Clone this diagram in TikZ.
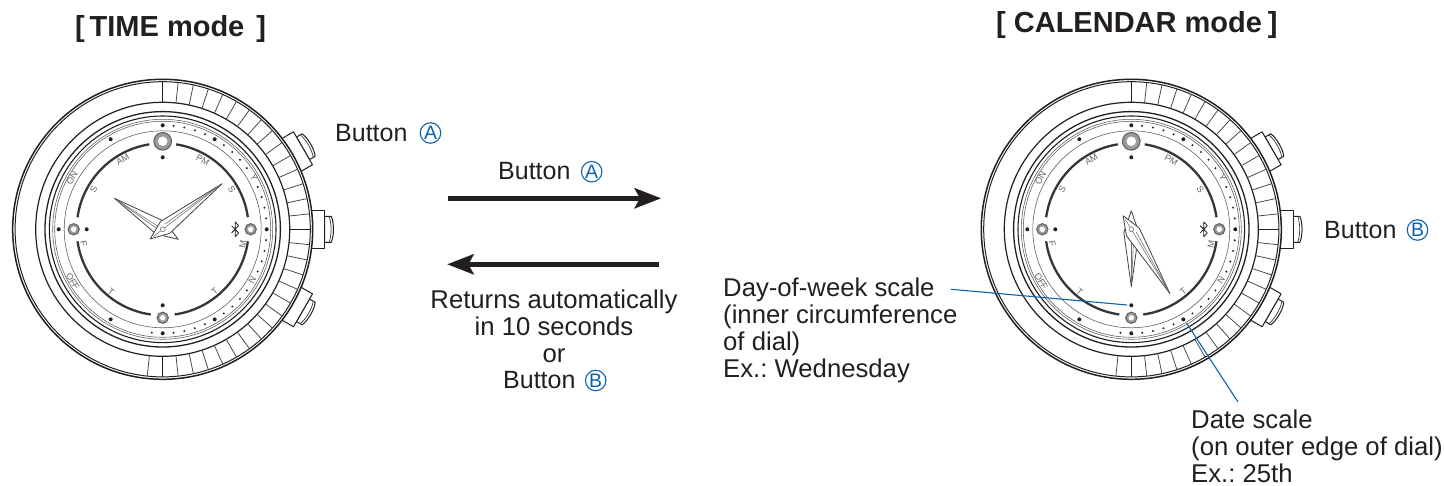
\documentclass[tikz,border=0pt]{standalone}
\usepackage{fontspec}
\setmainfont{Liberation Sans}
\usetikzlibrary{arrows.meta}
\definecolor{lblue}{HTML}{0B62AC}
\definecolor{ink}{HTML}{231F20}
\definecolor{dialgray}{HTML}{666666}
\tikzset{
  x=1pt,y=1pt,
  wline/.style={draw=ink,line width=1pt},
  thinring/.style={draw=ink!75,line width=0.55pt},
  handline/.style={draw=ink!85,line width=0.8pt,line join=round,fill=white},
  innerhand/.style={draw=ink!65,line width=0.55pt},
  dial/.style={text=dialgray,inner sep=0pt,font=\fontsize{9}{10}\selectfont},
  label/.style={text=ink,inner sep=0pt,font=\fontsize{25}{27}\selectfont\frenchspacing},
  blocklabel/.style={text=ink,inner sep=0pt,font=\fontsize{25.7}{27}\selectfont\frenchspacing},
  title/.style={text=ink,inner sep=0pt,font=\fontsize{29}{32}\selectfont\bfseries},
  circlabel/.style={circle,draw=lblue,line width=1.1pt,text=lblue,minimum size=20.5pt,inner sep=0pt,font=\fontsize{19.5}{19.5}\selectfont},
  bigarrow/.style={draw=ink,fill=ink,line width=5.5pt,-{Stealth[length=27pt,width=21pt,inset=6pt,line width=0pt]}},
  leader/.style={draw=lblue,line width=1.1pt},
  bigdot/.style={fill=ink,draw=none},
  crown/.style={wline,fill=white,line join=round},
  pearl/.style={draw=ink!70,line width=1.1pt,fill=ink!45},
  pics/watch/.style 2 args={code={
    % buttons
    \foreach \b in {30,0,-30}{
      \begin{scope}[rotate=\b]
        \draw[crown] (162,-13) -- (168.5,-13) .. controls (171.5,-7) and (171.5,7) .. (168.5,13) -- (162,13) -- cycle;
        \draw[wline,line width=0.6pt] (166.5,-12.5) .. controls (169,-6) and (169,6) .. (166.5,12.5);
        \draw[crown] (146,-19) -- (162,-19) -- (162,19) -- (146,19) -- cycle;
      \end{scope}
    }
    % bezel
    \draw[draw=ink,line width=1.5pt,fill=white] (0,0) circle[radius=150];
    \draw[wline] (0,0) circle[radius=147.6];
    \draw[wline,line width=1.2pt] (0,0) circle[radius=127];
    \foreach \a in {6,12,...,84,-6,-12,...,-96}
      \draw[draw=ink!85,line width=0.75pt] (\a:127) -- (\a:147.7);
    \draw[wline] (90:127) -- (90:147.7);
    \draw[wline] (0:127) -- (0:147.7);
    \draw[wline] (-90:127) -- (-90:147.7);
    % dial rings
    \draw[wline,line width=1.3pt] (0,0) circle[radius=117.7];
    \draw[wline,line width=1.1pt] (0,0) circle[radius=113.3];
    \draw[thinring] (0,0) circle[radius=110];
    \draw[thinring] (0,0) circle[radius=108];
    \draw[thinring] (0,0) circle[radius=98.5];
    % thick arcs
    \draw[draw=ink!90,line width=2.3pt] (81:86) arc[start angle=81,end angle=8,radius=86];
    \draw[draw=ink!90,line width=2.3pt] (-8:86) arc[start angle=-8,end angle=-82,radius=86];
    \draw[draw=ink!90,line width=2.3pt] (-98:86) arc[start angle=-98,end angle=-172,radius=86];
    \draw[draw=ink!90,line width=2.3pt] (172:86) arc[start angle=172,end angle=99,radius=86];
    % outer dots
    \foreach \a in {90,60,120,180,240,270,300,0}
      \fill[bigdot] (\a:104) circle[radius=2];
    \foreach \a in {84,78,72,66,54,48,42,36,24,18,12,6,-6,-12,-18,-24,-36,-42,-48,-54,-66,-72,-78,-84,-96}
      \fill[bigdot] (\a:104) circle[radius=1.1];
    % inner dots
    \fill[bigdot] (0,72) circle[radius=2];
    \fill[bigdot] (-76,0) circle[radius=2];
    \fill[bigdot] (0,-76) circle[radius=2];
    % pearls
    \draw[pearl] (0,88) circle[radius=8.8];
    \draw[draw=white,line width=1pt,fill=white] (0,88) circle[radius=4.2];
    \draw[pearl] (-89,0) circle[radius=5.6];
    \draw[draw=white,line width=0.6pt,fill=white] (-89,0) circle[radius=2.4];
    \draw[pearl] (88,0) circle[radius=5.6];
    \draw[draw=white,line width=0.6pt,fill=white] (88,0) circle[radius=2.4];
    \draw[pearl] (0,-88.5) circle[radius=5.6];
    \draw[draw=white,line width=0.6pt,fill=white] (0,-88.5) circle[radius=2.4];
    % dial letters
    \node[dial,rotate=30] (am) at (-40,69.5) {AM};
    \node[dial,rotate=-30] (pm) at (40,69.5) {PM};
    \node[dial,rotate=60] (s1) at (-69,40) {S};
    \node[dial,rotate=-60] (s2) at (69,40) {S};
    \node[dial,rotate=60] (on) at (-90.7,51) {ON};
    \node[dial,rotate=-60] (y) at (91.3,52) {Y};
    \node[dial,rotate=-80] (f) at (-79,-14.7) {F};
    \node[dial,rotate=80] (m) at (80,-14.7) {M};
    \node[dial,rotate=-60] (off) at (-90,-52) {OFF};
    \node[dial,rotate=60] (n) at (89.7,-51) {N};
    \node[dial,rotate=-40] (t1) at (-51.7,-62.3) {T};
    \node[dial,rotate=40] (t2) at (52,-62.3) {T};
    % bluetooth rune
    \begin{scope}[shift={(72.5,0)}]
      \draw[draw=ink,line width=0.8pt,line join=round] (-3.6,3.6) -- (3.4,-3.6) -- (0,-7.4) -- (0,7.4) -- (3.4,3.6) -- (-3.6,-3.6);
    \end{scope}
    % hour hand
    \begin{scope}[rotate=#1]
      \draw[handline] (57.3,0) -- (3,7.5) -- (-18.5,0) -- (3,-7.5) -- cycle;
      \draw[innerhand] (54,0) -- (-8,0);
      \draw[innerhand] (54,0.2) -- (5,2.5);
    \end{scope}
    % minute hand
    \begin{scope}[rotate=#2]
      \draw[handline] (75,0) -- (3,7.5) -- (-15.8,0) -- (3,-7.5) -- cycle;
      \draw[innerhand] (72,0) -- (-12,0);
      \draw[innerhand] (72,0.2) -- (5,2.8);
      \draw[innerhand,fill=white] (0,0) circle[radius=2.4];
    \end{scope}
  }}
}
\begin{document}
\begin{tikzpicture}
\useasboundingbox (0,0) rectangle (1444,-486);
% watches
\pic (w1) at (162.7,-229.3) {watch={147.3}{37.5}};
\pic (w2) at (1131.3,-229.3) {watch={-90}{-59}};
% titles
\node[title,anchor=base west] (t1) at (75,-36.5) {[\,TIME mode\hspace{12pt}]};
\node[title,anchor=base west] (t2) at (996,-32.5) {[ CALENDAR mode\hspace{6pt}]};
% labels
\node[label,anchor=base west] (la) at (335,-141.5) {Button};
\node[circlabel] (laa) at (430.5,-133) {A};
\node[label,anchor=base west] (lb) at (1324,-238.5) {Button};
\node[circlabel] (lbb) at (1417.5,-230) {B};
\node[label,anchor=base west] (lc) at (498,-180) {Button};
\node[circlabel] (lcc) at (591.7,-171.7) {A};
\node[blocklabel,align=center,anchor=north] (ret) at (554,-290) {Returns automatically\\in 10 seconds\\or};
\node[label,anchor=base west] (ld) at (503,-388.5) {Button};
\node[circlabel] (ldd) at (595.7,-380.5) {B};
\node[blocklabel,align=left,anchor=north west] (dow) at (723,-277.5) {Day-of-week scale\\(inner circumference\\of dial)\\Ex.: Wednesday};
\node[blocklabel,align=left,anchor=north west] (ds) at (1191,-410) {Date scale\\(on outer edge of dial)\\Ex.: 25th};
% arrows
\coordinate (ar1) at (448.3,-198.3);
\coordinate (ar2) at (661,-198.3);
\coordinate (ar3) at (659,-264.3);
\coordinate (ar4) at (447.3,-264.3);
\draw[bigarrow] (ar1) -- (ar2);
\draw[bigarrow] (ar3) -- (ar4);
% leaders
\coordinate (l1s) at (951,-289.3);
\coordinate (l1e) at (1127,-305);
\coordinate (l2s) at (1186.7,-323.3);
\coordinate (l2e) at (1238,-402);
\draw[leader] (l1s) -- (l1e);
\draw[leader] (l2s) -- (l2e);
\end{tikzpicture}
\end{document}
